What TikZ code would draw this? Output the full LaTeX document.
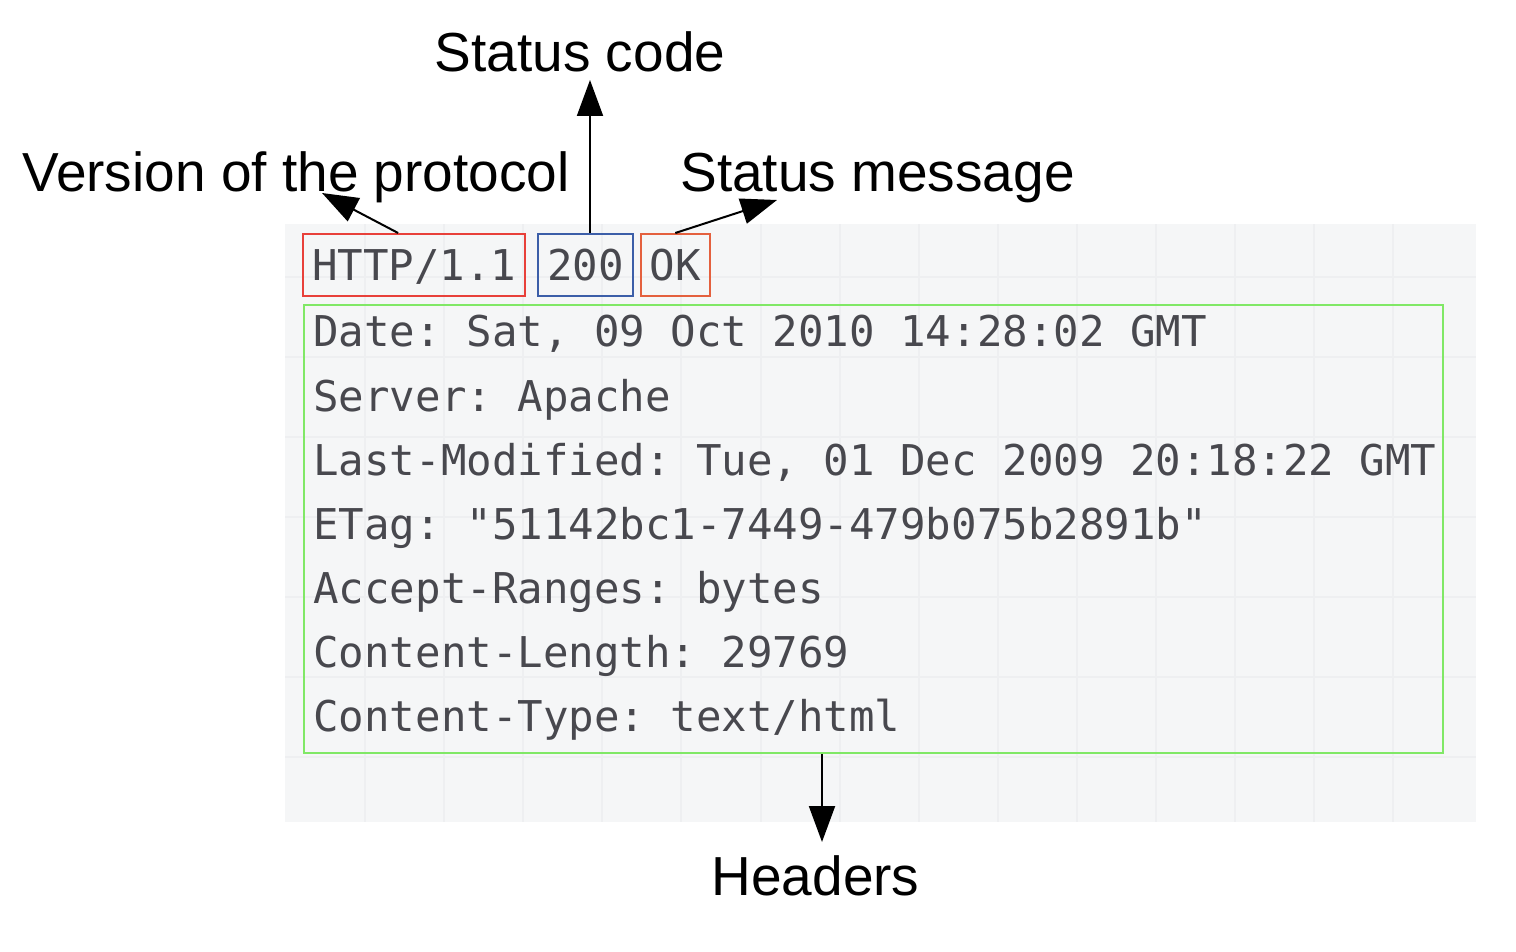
\documentclass[tikz,border=0pt]{standalone}
\usepackage{fontspec}
\setmainfont{Liberation Sans}
\setmonofont{DejaVu Sans Mono}
\usetikzlibrary{arrows.meta, positioning}

\definecolor{bgc}{HTML}{F5F6F7}
\definecolor{gridc}{HTML}{EEEFF1}
\definecolor{codegray}{HTML}{48484E}
\definecolor{verred}{HTML}{E8403A}
\definecolor{codeblue}{HTML}{3C5EA8}
\definecolor{okred}{HTML}{E4603E}
\definecolor{hdrgreen}{HTML}{80E866}

\begin{document}
\begin{tikzpicture}[x={(0.5pt,0)}, y={(0,-0.5pt)},
  lbl/.style={font=\fontsize{27.5}{32}\selectfont, inner sep=0pt},
  code/.style={font=\fontsize{21.2}{25}\selectfont\ttfamily, text=codegray, inner sep=0pt},
  tag/.style={code, draw, line width=1pt, inner xsep=4.5pt, minimum height=31pt, text height=15.5pt, text depth=0pt},
  arr/.style={line width=1pt, -{Triangle[length=18pt,width=13pt]}}]
\useasboundingbox (0,0) rectangle (1516,952);

% Grey sheet with faint grid
\fill[bgc] (285,224) rectangle (1476,822);
\foreach \gx in {0,...,13}
  \draw[gridc, line width=1pt] (365+79.1*\gx,224) -- (365+79.1*\gx,822);
\foreach \gy in {0,...,6}
  \draw[gridc, line width=1pt] (285,277+80*\gy) -- (1476,277+80*\gy);

% Status line
\node (http) [tag, draw=verred, anchor=west] at (302,265) {HTTP/1.1};
\node (code) [tag, draw=codeblue, right=5.5pt of http] {200};
\node (ok) [tag, draw=okred, right=3pt of code] {OK};

% Header lines
\node (hdrs) [draw=hdrgreen, line width=1pt, minimum width=569.5pt, minimum height=224pt] at (873.5,529) {};
\node (h1) [code, anchor=base west] at (313,347) {Date: Sat, 09 Oct 2010 14:28:02 GMT};
\node (h2) [code, anchor=base west] at (313,411) {Server: Apache};
\node (h3) [code, anchor=base west] at (313,475) {Last-Modified: Tue, 01 Dec 2009 20:18:22 GMT};
\node (h4) [code, anchor=base west] at (313,539) {ETag: "51142bc1-7449-479b075b2891b"};
\node (h5) [code, anchor=base west] at (313,603) {Accept-Ranges: bytes};
\node (h6) [code, anchor=base west] at (313,667) {Content-Length: 29769};
\node (h7) [code, anchor=base west] at (313,731) {Content-Type: text/html};

% Labels
\node (version) [lbl, anchor=base west] at (22,192) {Version of the protocol};
\node (status) [lbl, anchor=base] at (580,72) {Status code};
\node (message) [lbl, anchor=base west] at (680,192) {Status message};
\node (headers) [lbl, anchor=base] at (815.5,895) {Headers};

% Arrow ends
\coordinate (vtip) at (322,193);
\coordinate (ctip) at (590,80);
\coordinate (mtip) at (777,200);
\coordinate (htip) at (822,842);

% Arrows
\draw[arr] ([xshift=-8pt]http.north) -- (vtip);
\draw[arr] (code.north -| ctip) -- (ctip);
\draw[arr] (ok.north) -- (mtip);
\draw[arr] (hdrs.south -| htip) -- (htip);
\end{tikzpicture}
\end{document}
